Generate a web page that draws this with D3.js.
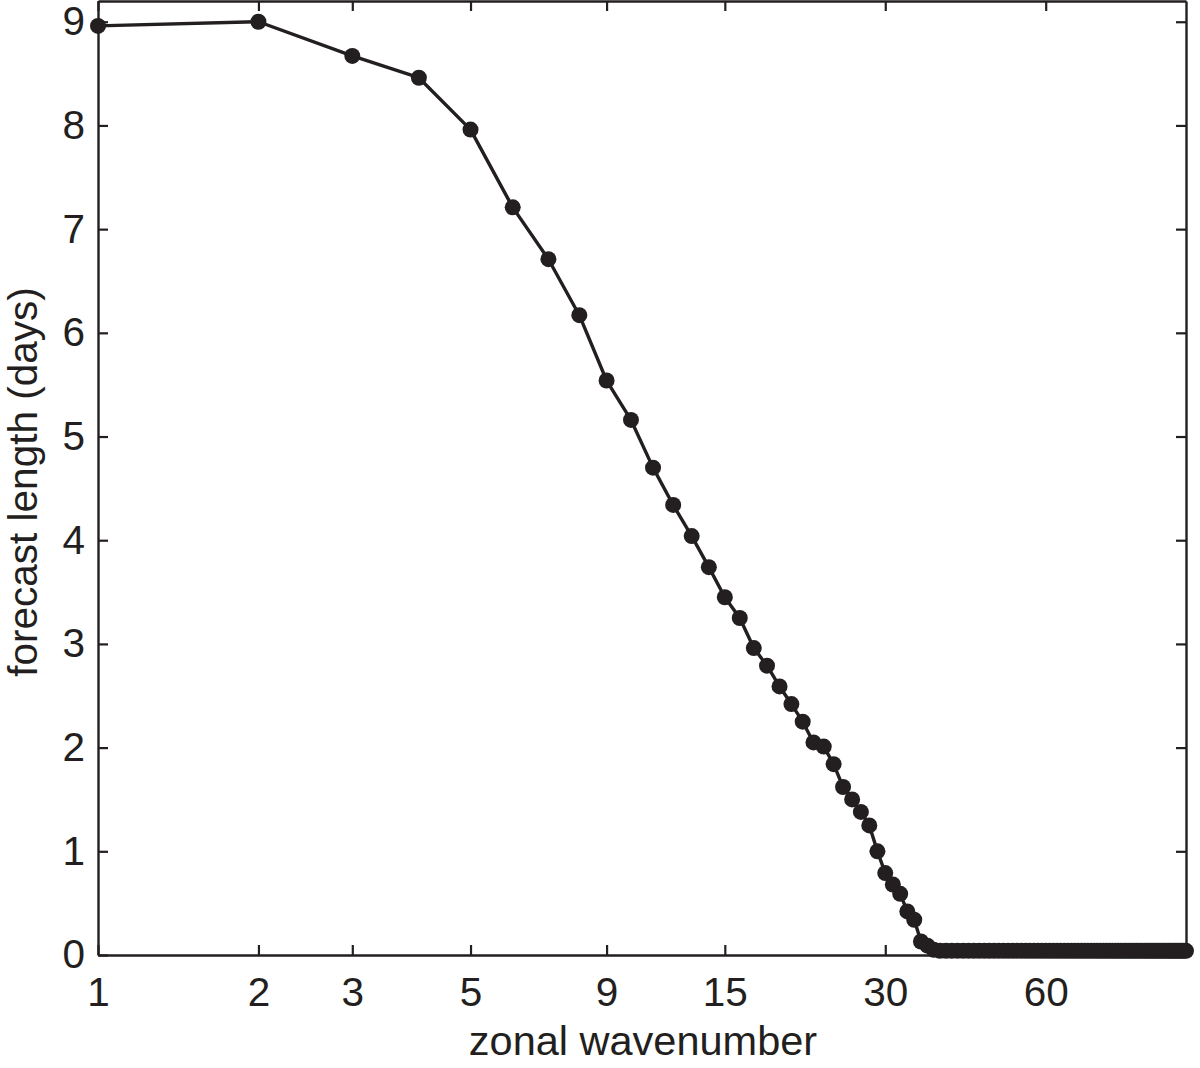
<!DOCTYPE html>
<html>
<head>
<meta charset="utf-8">
<script src="https://cdn.jsdelivr.net/npm/d3@7"></script>
<style>
  html, body { margin: 0; padding: 0; background: #fff; }
  svg { display: block; font-family: "Liberation Sans", Arial, Helvetica, sans-serif; }
</style>
</head>
<body>
<svg id="chart" width="1200" height="1068"></svg>
<script>
// ---- data ----
const wavenumbers = [
  1,2,3,4,5,6,7,8,9,10,11,12,13,14,15,16,17,18,19,20,
  21,22,23,24,25,26,27,28,29,30,31,32,33,34,35,36,37,38,39,40,
  41,42,43,44,45,46,47,48,49,50,51,52,53,54,55,56,57,58,59,60,
  61,62,63,64,65,66,67,68,69,70,71,72,73,74,75,76,77,78,79,80,
  81,82,83,84,85,86,87,88,89,90,91,92,93,94,95,96,97,98,99,100,
  101,102,103,104,105,106,107,108,109,110
];
const forecastDays = [
  8.96,9.00,8.67,8.46,7.96,7.21,6.71,6.17,5.54,5.16,4.70,4.34,4.04,3.74,3.45,3.25,2.96,2.79,2.59,2.42,
  2.25,2.05,2.01,1.84,1.62,1.50,1.38,1.25,1.00,0.79,0.68,0.59,0.42,0.34,0.13,0.09,0.05,0.04,0.04,0.04,
  0.04,0.04,0.04,0.04,0.04,0.04,0.04,0.04,0.04,0.04,0.04,0.04,0.04,0.04,0.04,0.04,0.04,0.04,0.04,0.04,
  0.04,0.04,0.04,0.04,0.04,0.04,0.04,0.04,0.04,0.04,0.04,0.04,0.04,0.04,0.04,0.04,0.04,0.04,0.04,0.04,
  0.04,0.04,0.04,0.04,0.04,0.04,0.04,0.04,0.04,0.04,0.04,0.04,0.04,0.04,0.04,0.04,0.04,0.04,0.04,0.04,
  0.04,0.04,0.04,0.04,0.04,0.04,0.04,0.04,0.04,0.04
];
const xTicks = [1, 2, 3, 5, 9, 15, 30, 60];
const yTicks = [0, 1, 2, 3, 4, 5, 6, 7, 8, 9];
const xLabel = "zonal wavenumber";
const yLabel = "forecast length (days)";

// ---- layout ----
const ink = "#231f20";
const pL = 98, pR = 1186, pT = 1, pB = 955;
const svg = d3.select("#chart");

const x = d3.scaleLog().domain([1, 110]).range([pL, pR]);
const y = d3.scaleLinear().domain([0, 9.2]).range([pB, pT]);

function styleAxis(g) {
  g.attr("font-family", null).attr("font-size", null);
  g.selectAll(".domain").attr("stroke", ink).attr("stroke-width", 2.4);
  g.selectAll(".tick line").attr("stroke", ink).attr("stroke-width", 2.2);
  g.selectAll(".tick text").attr("fill", ink).style("font-size", "40.5px");
}

// bottom axis
svg.append("g")
  .attr("transform", `translate(0,${pB})`)
  .call(d3.axisBottom(x).tickValues(xTicks).tickFormat(d3.format("d"))
        .tickSizeInner(-10).tickSizeOuter(0).tickPadding(22))
  .call(styleAxis);

// top axis (ticks only)
svg.append("g")
  .attr("transform", `translate(0,${pT})`)
  .call(d3.axisTop(x).tickValues(xTicks).tickFormat("")
        .tickSizeInner(-10).tickSizeOuter(0))
  .call(styleAxis);

// left axis
svg.append("g")
  .attr("transform", `translate(${pL},0)`)
  .call(d3.axisLeft(y).tickValues(yTicks).tickFormat(d3.format("d"))
        .tickSizeInner(-10).tickSizeOuter(0).tickPadding(13))
  .call(styleAxis);

// right axis (ticks only)
svg.append("g")
  .attr("transform", `translate(${pR},0)`)
  .call(d3.axisRight(y).tickValues(yTicks).tickFormat("")
        .tickSizeInner(-10).tickSizeOuter(0))
  .call(styleAxis);

// axis labels
svg.append("text")
  .attr("x", 643).attr("y", 1055)
  .attr("text-anchor", "middle")
  .attr("fill", ink).style("font-size", "41.5px")
  .text(xLabel);

svg.append("text")
  .attr("transform", `translate(37,482) rotate(-90)`)
  .attr("text-anchor", "middle")
  .attr("fill", ink).style("font-size", "40.5px")
  .text(yLabel);

// data
const pts = wavenumbers.map((k, i) => ({ k, v: forecastDays[i] }));

svg.append("path")
  .datum(pts)
  .attr("fill", "none")
  .attr("stroke", ink)
  .attr("stroke-width", 3.4)
  .attr("stroke-linejoin", "round")
  .attr("d", d3.line().x(d => x(d.k)).y(d => y(d.v)));

svg.append("g")
  .selectAll("circle")
  .data(pts)
  .join("circle")
  .attr("cx", d => x(d.k))
  .attr("cy", d => y(d.v))
  .attr("r", 8)
  .attr("fill", ink);
</script>
</body>
</html>
